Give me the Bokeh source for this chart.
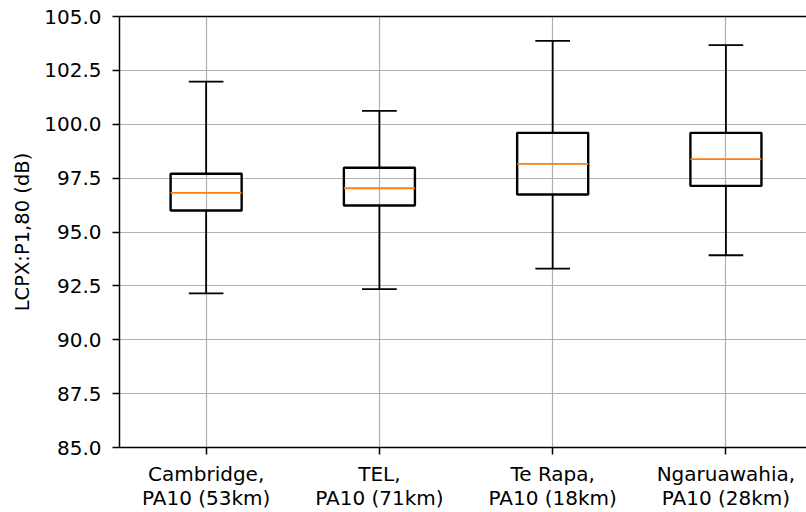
from bokeh.plotting import figure
from bokeh.models import (Range1d, FixedTicker, PrintfTickFormatter, LinearAxis)
from bokeh.embed import file_html
from bokeh.resources import INLINE

# ---- data ----
categories = ["Cambridge,\nPA10 (53km)", "TEL,\nPA10 (71km)",
              "Te Rapa,\nPA10 (18km)", "Ngaruawahia,\nPA10 (28km)"]
whisker_low = [92.15, 92.35, 93.3, 93.92]
q1 = [96.0, 96.23, 96.74, 97.14]
median = [96.82, 97.03, 98.16, 98.38]
q3 = [97.7, 97.98, 99.6, 99.6]
whisker_high = [101.98, 100.62, 103.87, 103.67]
y_ticks = [85.0, 87.5, 90.0, 92.5, 95.0, 97.5, 100.0, 102.5, 105.0]

positions = [i + 1 for i in range(len(categories))]
box_w = 0.41
cap_w = 0.2

FONT = "DejaVu Sans"

p = figure(width=806, height=512, output_backend="svg", toolbar_location=None,
           x_range=Range1d(0.5, 4.465), y_range=Range1d(85, 105),
           min_border_left=119, min_border_right=0, min_border_top=16,
           min_border_bottom=65, background_fill_color="white",
           border_fill_color="white")
p.outline_line_color = None

# grids
p.xgrid.ticker = FixedTicker(ticks=positions)
p.ygrid.ticker = FixedTicker(ticks=y_ticks)
for g in (p.xgrid, p.ygrid):
    g.grid_line_color = "#b0b0b0"
    g.grid_line_width = 1.2

# whiskers
p.segment(x0=positions, y0=q3, x1=positions, y1=whisker_high,
          line_color="black", line_width=1.8)
p.segment(x0=positions, y0=q1, x1=positions, y1=whisker_low,
          line_color="black", line_width=1.8)
# caps
p.segment(x0=[x - cap_w / 2 for x in positions], y0=whisker_high,
          x1=[x + cap_w / 2 for x in positions], y1=whisker_high,
          line_color="black", line_width=1.8)
p.segment(x0=[x - cap_w / 2 for x in positions], y0=whisker_low,
          x1=[x + cap_w / 2 for x in positions], y1=whisker_low,
          line_color="black", line_width=1.8)
# boxes
p.vbar(x=positions, width=box_w, bottom=q1, top=q3, fill_color=None,
       line_color="black", line_width=2.4)
# medians
p.segment(x0=[x - box_w / 2 for x in positions], y0=median,
          x1=[x + box_w / 2 for x in positions], y1=median,
          line_color="#ff7f0e", line_width=1.8)

# axes
xa = p.xaxis[0]
xa.ticker = FixedTicker(ticks=positions)
xa.major_label_overrides = {pos: lab for pos, lab in zip(positions, categories)}
ya = p.yaxis[0]
ya.ticker = FixedTicker(ticks=y_ticks)
ya.formatter = PrintfTickFormatter(format="%.1f")
ya.axis_label = "LCPX:P1,80 (dB)"
ya.axis_label_text_font_style = "normal"
ya.axis_label_text_font = FONT
ya.axis_label_text_font_size = "19.5px"
ya.axis_label_text_color = "black"
ya.axis_label_standoff = 7

for ax in (xa, ya):
    ax.axis_line_color = "black"
    ax.axis_line_width = 1.5
    ax.major_tick_line_color = "black"
    ax.major_tick_line_width = 1.5
    ax.major_tick_out = 7
    ax.major_tick_in = 0
    ax.minor_tick_line_color = None
    ax.major_label_text_font = FONT
    ax.major_label_text_font_size = "20px"
    ax.major_label_text_color = "black"
xa.major_label_standoff = 7
xa.major_label_text_line_height = 1.0
ya.major_label_standoff = 11

top = LinearAxis(ticker=FixedTicker(ticks=[]), major_label_text_font_size="0px",
                 major_tick_out=0, major_tick_in=0, minor_tick_out=0,
                 minor_tick_in=0, axis_line_color="black", axis_line_width=1.5,
                 major_label_standoff=0)
p.add_layout(top, "above")

open("out.html", "w").write(file_html(p, INLINE))
